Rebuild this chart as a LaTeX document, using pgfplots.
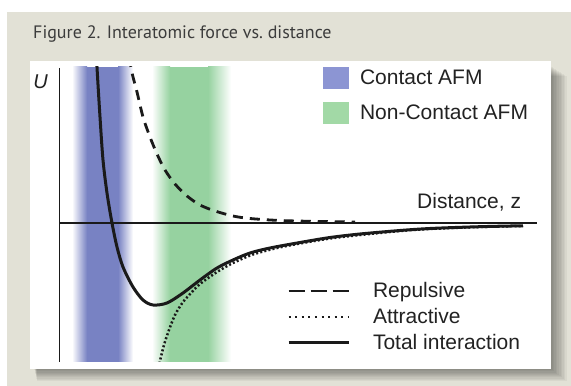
\documentclass[border=0pt]{standalone}
\usepackage{fontspec}
\usepackage{pgfplots}
\pgfplotsset{compat=1.18}
\newfontfamily\lab{Liberation Sans}
\newfontfamily\ttl{PT Sans}
\definecolor{bggray}{HTML}{E2E1D6}
\definecolor{titlegray}{HTML}{3C3C3C}
\definecolor{bandblue}{HTML}{7882C3}
\definecolor{bandgreen}{HTML}{96D2A0}
\definecolor{legblue}{HTML}{8C95D3}
\definecolor{leggreen}{HTML}{A2D9A6}
\definecolor{ink}{HTML}{1A1A1A}
\definecolor{txt}{HTML}{222222}
\pgfplotsset{afmaxis/.style={scale only axis, width=521pt, height=295pt,
  at={(30pt,24pt)}, anchor=south west,
  xmin=-29.5, xmax=491.5, ymin=-139, ymax=156, hide axis, clip=true,
  legend cell align=left}}
\begin{document}
\begin{tikzpicture}[x=1pt,y=1pt]
% page and grey panel
\fill[white] (0,0) rectangle (571,386);
\fill[bggray] (7,0) rectangle (571,374);
% soft shadow of the white panel
\foreach \k in {1,...,10} {
  \fill[black,opacity=0.045] (34+0.3*\k,{386-369-1.2*\k}) rectangle ({551+1.6*\k},{386-66-\k});
}
\fill[white] (30,17) rectangle (551,325);
% title
\node[anchor=base west, inner sep=0pt, text=titlegray, font=\ttl\fontsize{18}{21}\selectfont] at (33,347) {Figure 2. Interatomic force vs.\ distance};

% ---- bands ----
\begin{axis}[afmaxis,
  legend style={at={(axis cs:263.5,156)}, anchor=north west, draw=none, fill=none,
    inner sep=0pt, outer sep=0pt, row sep=12pt, column sep=11pt,
    nodes={inner sep=0pt, text height=15pt, text depth=5pt, text=txt,
      font=\lab\fontsize{21}{25}\selectfont}}]
\addplot[draw=none, forget plot, left color=white, right color=bandblue]
  coordinates {(12.5,-139) (27.5,-139) (27.5,156) (12.5,156)};
\addplot[draw=none, fill=bandblue,
  legend image code/.code={\fill[legblue] (0pt,-9pt) rectangle (26pt,13pt);}]
  coordinates {(27.5,-139) (58.5,-139) (58.5,156) (27.5,156)};
\addlegendentry{Contact AFM}
\addplot[draw=none, forget plot, left color=bandblue, right color=white]
  coordinates {(58.5,-139) (73.5,-139) (73.5,156) (58.5,156)};
\addplot[draw=none, forget plot, left color=white, right color=bandgreen]
  coordinates {(92.5,-139) (110.5,-139) (110.5,156) (92.5,156)};
\addplot[draw=none, fill=bandgreen,
  legend image code/.code={\fill[leggreen] (0pt,-9pt) rectangle (26pt,13pt);}]
  coordinates {(110.5,-139) (148.5,-139) (148.5,156) (110.5,156)};
\addlegendentry{Non-Contact AFM}
\addplot[draw=none, forget plot, left color=bandgreen, right color=white]
  coordinates {(148.5,-139) (171.5,-139) (171.5,156) (148.5,156)};
\end{axis}

% ---- curves ----
\begin{axis}[afmaxis,
  legend style={at={(axis cs:227.5,-60)}, anchor=north west, draw=none, fill=none,
    inner sep=0pt, outer sep=0pt, row sep=6pt, column sep=23pt,
    nodes={inner sep=0pt, text height=15pt, text depth=5pt, text=txt,
      font=\lab\fontsize{21}{25}\selectfont}}]
\draw[ink, line width=1.4pt] (axis cs:0,155) -- (axis cs:0,-139);
\draw[ink, line width=1.3pt] (axis cs:0,0) -- (axis cs:477.5,0);
% repulsive
\addplot[ink, line width=2.8pt, dash pattern=on 10pt off 7pt, smooth,
  legend image code/.code={\draw[ink, line width=2.8pt, dash pattern=on 16pt off 6pt] (0pt,2pt) -- (60pt,2pt);}]
  coordinates {(68.5,183) (71.5,155) (77.5,131) (83.5,106) (90.5,86) (97.5,69)
    (105.5,53) (115.5,39) (127.5,27) (140.5,18) (155.5,12) (173.5,7)
    (190.5,4.5) (220.5,2.5) (260.5,1.5) (295.5,1)};
\addlegendentry{Repulsive}
% attractive
\addplot[ink, line width=2.5pt, dash pattern=on 2pt off 2.2pt, smooth,
  legend image code/.code={\draw[ink, line width=2.2pt, dash pattern=on 2pt off 4.6pt] (0pt,2pt) -- (60pt,2pt);}]
  coordinates {(96.5,-157) (100.5,-138) (104.5,-122) (109.5,-107) (115.5,-92)
    (123.5,-79) (132.5,-69) (140.5,-61) (157.5,-49) (173.5,-40) (193.5,-31.5)
    (217.5,-25) (240.5,-20.5) (270.5,-15.5) (300.5,-12) (340.5,-8)
    (370.5,-6) (410.5,-4.3) (440.5,-3.5) (463.5,-3)};
\addlegendentry{Attractive}
% total
\addplot[ink, line width=3pt, smooth,
  legend image code/.code={\draw[ink, line width=3pt] (0pt,2pt) -- (60pt,2pt);}]
  coordinates {(36.5,183) (37.5,156) (40.5,106) (43.5,63) (47.5,30) (52.5,0)
    (57.5,-24) (63.5,-44) (73.5,-64) (83.5,-77) (93.5,-82) (107.5,-80)
    (123.5,-70) (140.5,-57) (157.5,-45) (173.5,-37) (190.5,-30) (210.5,-25)
    (240.5,-19.5) (270.5,-14.5) (300.5,-11) (340.5,-7.5) (370.5,-5.5)
    (410.5,-4) (440.5,-3.2) (463.5,-2.8)};
\addlegendentry{Total interaction}
\end{axis}

% axis labels
\node[inner sep=0pt, text=txt, font=\lab\itshape\fontsize{20}{24}\selectfont] at (40.5,304.5) {U};
\node[anchor=base west, inner sep=0pt, text=txt, font=\lab\fontsize{21}{25}\selectfont] at (417,177) {Distance, z};
\end{tikzpicture}
\end{document}
